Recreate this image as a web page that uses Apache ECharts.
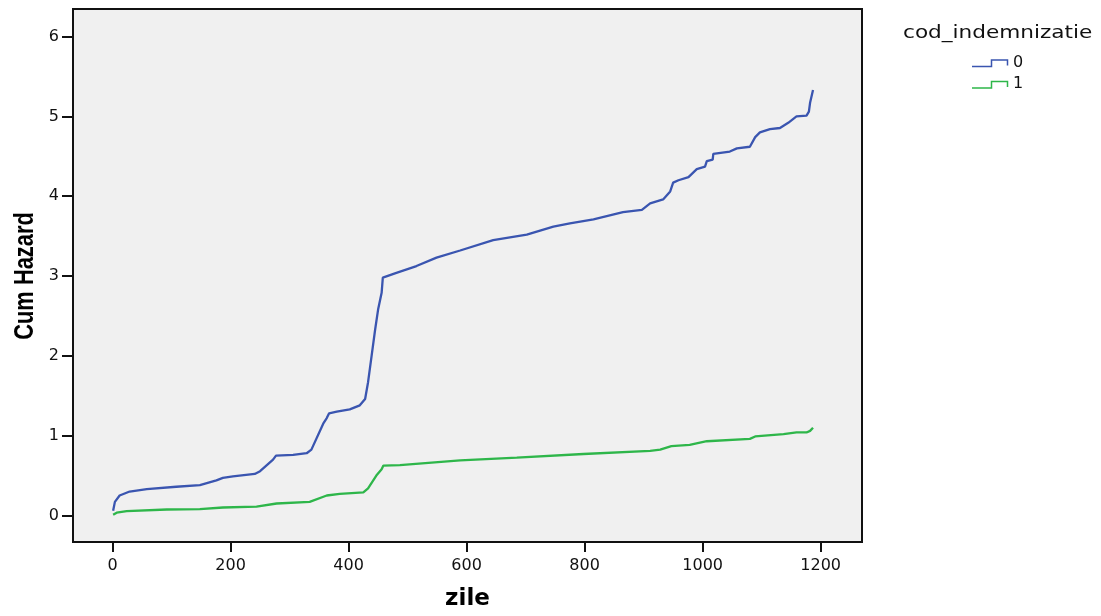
<!DOCTYPE html>
<html>
<head>
<meta charset="utf-8">
<script src="https://cdn.jsdelivr.net/npm/echarts@6/dist/echarts.min.js"></script>
<style>
html,body{margin:0;padding:0;background:#fff;}
#chart{width:1101px;height:616px;}
</style>
</head>
<body>
<div id="chart"></div>
<script>
// Data
var xTicks = [0, 200, 400, 600, 800, 1000, 1200];
var yTicks = [0, 1, 2, 3, 4, 5, 6];
var groupNames = ['0', '1'];

var daysGroup0 = [1, 4, 12, 29, 58, 108, 148, 176, 187, 204, 241, 250, 272, 277, 306, 329, 337, 357, 363, 367, 380, 402, 419, 428, 433, 439, 445, 450, 456, 458, 481, 515, 549, 589, 645, 702, 747, 775, 815, 865, 897, 911, 933, 945, 950, 959, 976, 990, 1004, 1007, 1017, 1018, 1046, 1058, 1080, 1089, 1097, 1114, 1131, 1145, 1159, 1176, 1180, 1182, 1187];
var hazardGroup0 = [0.06, 0.17, 0.25, 0.30, 0.33, 0.36, 0.38, 0.44, 0.47, 0.49, 0.52, 0.555, 0.70, 0.75, 0.76, 0.78, 0.825, 1.15, 1.22, 1.28, 1.30, 1.33, 1.38, 1.46, 1.67, 2.0, 2.33, 2.58, 2.79, 2.98, 3.04, 3.125, 3.23, 3.32, 3.45, 3.52, 3.62, 3.66, 3.71, 3.80, 3.83, 3.91, 3.96, 4.06, 4.17, 4.20, 4.24, 4.34, 4.37, 4.44, 4.46, 4.53, 4.56, 4.60, 4.62, 4.74, 4.80, 4.84, 4.855, 4.92, 5.0, 5.01, 5.06, 5.17, 5.33];

var daysGroup1 = [1, 7, 24, 92, 148, 187, 244, 278, 334, 363, 385, 425, 433, 447, 456, 459, 487, 589, 685, 798, 911, 928, 947, 978, 1007, 1080, 1089, 1137, 1159, 1176, 1182, 1187];
var hazardGroup1 = [0.01, 0.035, 0.055, 0.075, 0.08, 0.10, 0.11, 0.15, 0.17, 0.25, 0.27, 0.29, 0.34, 0.50, 0.58, 0.625, 0.63, 0.69, 0.725, 0.77, 0.81, 0.825, 0.87, 0.885, 0.93, 0.96, 0.99, 1.02, 1.04, 1.04, 1.06, 1.10];

function pairs(xs, ys) {
  return xs.map(function (x, i) { return [x, ys[i]]; });
}

var blue = '#3a55b0';
var green = '#2eb64a';

var chart = echarts.init(document.getElementById('chart'), null, {renderer: 'canvas'});
chart.setOption({
  animation: false,
  backgroundColor: '#ffffff',
  grid: {
    left: 73, right: 239, top: 9, bottom: 73,
    show: true,
    backgroundColor: '#f0f0f0',
    borderColor: '#111',
    borderWidth: 2
  },
  xAxis: {
    type: 'value',
    min: -67,
    max: 1270,
    name: 'zile',
    nameLocation: 'middle',
    nameGap: 46,
    nameTextStyle: {fontFamily: 'DejaVu Sans', fontWeight: 'bold', fontSize: 23, color: '#000'},
    axisLine: {show: false, onZero: false},
    splitLine: {show: false},
    axisTick: {show: true, length: 10, lineStyle: {color: '#111', width: 2}, customValues: xTicks},
    axisLabel: {show: true, margin: 16, fontFamily: 'DejaVu Sans', fontSize: 16, color: '#111', customValues: xTicks,
      formatter: function (v) { return String(v); }}
  },
  yAxis: {
    type: 'value',
    min: -0.3325,
    max: 6.346,
    axisLine: {show: false, onZero: false},
    splitLine: {show: false},
    axisTick: {show: true, length: 11, lineStyle: {color: '#111', width: 2}, customValues: yTicks},
    axisLabel: {show: true, margin: 14, fontFamily: 'DejaVu Sans', fontSize: 16, color: '#111', customValues: yTicks,
      padding: [5, 0, 0, 0],
      formatter: function (v) { return String(v); }}
  },
  series: [
    {
      name: groupNames[0],
      type: 'line',
      data: pairs(daysGroup0, hazardGroup0),
      showSymbol: false,
      symbol: 'none',
      lineStyle: {color: blue, width: 2.3},
      itemStyle: {color: blue}
    },
    {
      name: groupNames[1],
      type: 'line',
      data: pairs(daysGroup1, hazardGroup1),
      showSymbol: false,
      symbol: 'none',
      lineStyle: {color: green, width: 2.3},
      itemStyle: {color: green}
    }
  ],
  graphic: [
    {
      type: 'text', x: 26, y: 276, rotation: Math.PI / 2, scaleX: 0.81,
      style: {text: 'Cum Hazard', fontFamily: '"Liberation Sans", Arial, sans-serif', fontWeight: 'bold', fontSize: 27,
        fill: '#000', align: 'center', verticalAlign: 'middle'}
    },
    {
      type: 'text', left: 903, top: 24,
      style: {text: 'cod_indemnizatie', fontFamily: 'DejaVu Sans', fontSize: 18, fill: '#111'},
      scaleX: 1.2
    },
    {
      type: 'polyline', shape: {points: [[972, 66.5], [991.5, 66.5], [991.5, 60], [1007.5, 60], [1007.5, 65.5]]},
      style: {stroke: blue, lineWidth: 1.5, fill: null}
    },
    {
      type: 'text', left: 1013, top: 55,
      style: {text: groupNames[0], fontFamily: 'DejaVu Sans', fontSize: 16, fill: '#111'}
    },
    {
      type: 'polyline', shape: {points: [[972, 88], [991.5, 88], [991.5, 81.5], [1007.5, 81.5], [1007.5, 87]]},
      style: {stroke: green, lineWidth: 1.5, fill: null}
    },
    {
      type: 'text', left: 1013, top: 76,
      style: {text: groupNames[1], fontFamily: 'DejaVu Sans', fontSize: 16, fill: '#111'}
    }
  ]
});
</script>
</body>
</html>
